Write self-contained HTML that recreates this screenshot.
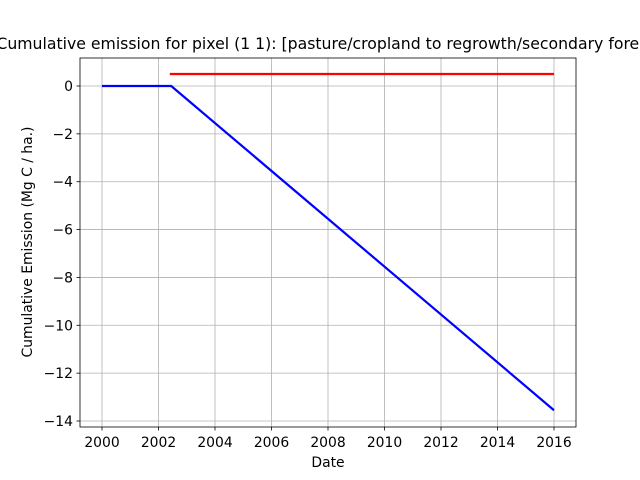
<!DOCTYPE html>
<html><head><meta charset="utf-8"><style>body{margin:0;background:#fff}svg{display:block;font-family:"DejaVu Sans","Liberation Sans",sans-serif}</style></head>
<body>
<svg id="chart" width="640" height="480" viewBox="0 0 640 480">
<rect width="640" height="480" fill="#fff"/>
<g id="grid"></g>
<g id="series"></g>
<rect x="80" y="58" width="496" height="369" fill="none" stroke="#000" stroke-width="0.8"/>
<g id="axes" font-size="13.9"></g>
<text x="328" y="49" font-size="15.7" text-anchor="middle">Cumulative emission for pixel (1 1): [pasture/cropland to regrowth/secondary forest]</text>
<text x="328" y="467" font-size="13.9" text-anchor="middle">Date</text>
<text transform="translate(32 242) rotate(-90)" font-size="13.9" text-anchor="middle">Cumulative Emission (Mg C / ha.)</text>
</svg>
<script>
const xTicks=[2000,2002,2004,2006,2008,2010,2012,2014,2016];
const yTicks=[0,-2,-4,-6,-8,-10,-12,-14];
const blueX=[2000,2002.45,2016];
const blueY=[0,0,-13.55];
const redX=[2002.4,2016];
const redY=[0.5,0.5];
const X=v=>102+(v-2000)*(554-102)/16;
const Y=v=>86+(0-v)*(421-86)/14;
const NS='http://www.w3.org/2000/svg';
const grid=document.getElementById('grid'),axes=document.getElementById('axes'),series=document.getElementById('series');
function mk(tag,attrs,parent){const e=document.createElementNS(NS,tag);for(const k in attrs)e.setAttribute(k,attrs[k]);parent.appendChild(e);return e;}
xTicks.forEach(t=>{const x=X(t);
const g=mk('line',{x1:x,x2:x,y1:58,y2:427,stroke:'#b0b0b0','stroke-width':0.8},grid);


mk('line',{x1:x,x2:x,y1:427,y2:430.5,stroke:'#000','stroke-width':0.8},axes);
const tx=mk('text',{x:x,y:447,'text-anchor':'middle'},axes);tx.textContent=t;

});
yTicks.forEach(t=>{const y=Y(t);
const g=mk('line',{x1:80,x2:576,y1:y,y2:y,stroke:'#b0b0b0','stroke-width':0.8},grid);


mk('line',{x1:76.5,x2:80,y1:y,y2:y,stroke:'#000','stroke-width':0.8},axes);
const tx=mk('text',{x:73,y:y+5,'text-anchor':'end'},axes);tx.textContent=t===0?'0':'\u2212'+Math.abs(t);

});
function line(xs,ys,color,name){const p=mk('polyline',{points:xs.map((v,i)=>X(v)+','+Y(ys[i])).join(' '),fill:'none',stroke:color,'stroke-width':2.2},series);

}
line(blueX,blueY,'#0000ff','emission-line');
line(redX,redY,'#ff0000','reference-line');
</script>
</body></html>
